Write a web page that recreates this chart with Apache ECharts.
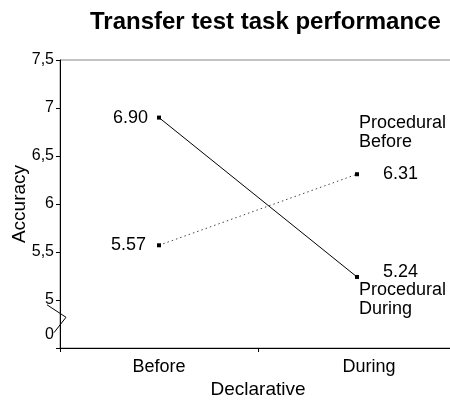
<!DOCTYPE html>
<html>
<head>
<meta charset="utf-8">
<script src="https://cdn.jsdelivr.net/npm/echarts@6/dist/echarts.min.js"></script>
<style>
  html, body { margin: 0; padding: 0; background: #fff; }
  #main { width: 450px; height: 400px; }
</style>
</head>
<body>
<div id="main"></div>
<script>
// categories on the x axis (Declarative)
const categories = ['Before', 'During'];

// accuracy per series (Procedural)
const proceduralDuring = [6.90, 5.24];
const proceduralBefore = [5.57, 6.31];

// y axis: broken axis, "0" sits just below the break
const yTickValues = [4.5, 5, 5.5, 6, 6.5, 7, 7.5];
const yLabelValues = [4.64, 5, 5.5, 6, 6.5, 7, 7.5];
const yLabelTexts = ['0', '5', '5,5', '6', '6,5', '7', '7,5'];

const FONT = '"Liberation Sans", Arial, sans-serif';
const GRID_LEFT = 60;

const chart = echarts.init(document.getElementById('main'));

const nameRich = {
  n: { fontSize: 18, lineHeight: 19, color: '#000', fontFamily: FONT }
};

// label left of the "Before" point
function leftLabel(distance) {
  return {
    show: true,
    position: 'left',
    distance: distance,
    fontSize: 18,
    color: '#000',
    fontFamily: FONT,
    formatter: p => p.value.toFixed(2)
  };
}

chart.setOption({
  animation: false,
  title: {
    text: 'Transfer test task performance',
    left: 90,
    top: 10,
    padding: 0,
    textStyle: { fontSize: 24, fontWeight: 'bold', color: '#000', fontFamily: FONT }
  },
  grid: {
    left: GRID_LEFT,
    top: 60,
    width: 396,
    height: 288,
    outerBoundsMode: 'none',
    containLabel: false,
    show: true,
    borderColor: '#888',
    borderWidth: 1
  },
  xAxis: {
    type: 'category',
    data: [
      categories[0],
      { value: categories[1], textStyle: { padding: [0, 0, 0, 24] } }
    ],
    name: 'Declarative',
    nameLocation: 'middle',
    nameGap: 32,
    nameMoveOverlap: false,
    nameTextStyle: { fontSize: 19, color: '#000', fontFamily: FONT },
    axisLine: { lineStyle: { color: '#000', width: 1 } },
    axisTick: { show: true, length: 4, lineStyle: { color: '#000' } },
    axisLabel: { fontSize: 18, color: '#000', fontFamily: FONT, margin: 10 },
    splitLine: { show: false }
  },
  yAxis: {
    type: 'value',
    min: 4.5,
    max: 7.5,
    interval: 0.5,
    name: 'Accuracy',
    nameLocation: 'middle',
    nameGap: 31,
    nameMoveOverlap: false,
    nameTextStyle: { fontSize: 19, color: '#000', fontFamily: FONT },
    axisLine: { show: true, lineStyle: { color: '#000', width: 1 } },
    axisTick: {
      show: true,
      length: 4,
      customValues: yTickValues,
      lineStyle: { color: '#000' }
    },
    axisLabel: {
      customValues: yLabelValues,
      fontSize: 16,
      color: '#000',
      fontFamily: FONT,
      margin: 6,
      formatter: v => {
        const i = yLabelValues.findIndex(x => Math.abs(x - v) < 1e-6);
        return i >= 0 ? yLabelTexts[i] : '';
      }
    },
    splitLine: { show: false }
  },
  series: [
    {
      name: 'Procedural During',
      type: 'line',
      symbol: 'rect',
      symbolSize: 4,
      itemStyle: { color: '#000' },
      lineStyle: { color: '#000', width: 1, type: 'solid' },
      data: proceduralDuring.map((v, i) => ({
        value: v,
        label: i === 0 ? leftLabel(9) : {
          show: true,
          position: 'right',
          distance: 0,
          padding: [28, 0, 0, 0],
          formatter: p => `{v|${p.value.toFixed(2)}}\n{n|Procedural}\n{n|During}`,
          rich: {
            v: { fontSize: 18, lineHeight: 17, padding: [0, 0, 0, 24], color: '#000', fontFamily: FONT },
            n: nameRich.n
          }
        }
      }))
    },
    {
      name: 'Procedural Before',
      type: 'line',
      symbol: 'rect',
      symbolSize: 4,
      itemStyle: { color: '#000' },
      lineStyle: { color: '#444', width: 1, type: [1.5, 3] },
      data: proceduralBefore.map((v, i) => ({
        value: v,
        label: i === 0 ? leftLabel(11) : {
          show: true,
          position: 'right',
          distance: 0,
          padding: [0, 0, 38, 0],
          formatter: p => `{n|Procedural}\n{n|Before}\n{v|${p.value.toFixed(2)}}`,
          rich: {
            v: { fontSize: 18, lineHeight: 45, padding: [0, 0, 0, 24], color: '#000', fontFamily: FONT },
            n: nameRich.n
          }
        }
      }))
    }
  ]
});

// axis break zigzag between 5 and 0
const yPix = v => chart.convertToPixel({ yAxisIndex: 0 }, v);
chart.setOption({
  graphic: [{
    type: 'polyline',
    shape: {
      points: [
        [GRID_LEFT - 13, yPix(4.95)],
        [GRID_LEFT + 6, yPix(4.82)],
        [GRID_LEFT - 6, yPix(4.66)]
      ]
    },
    style: { stroke: '#000', lineWidth: 1, fill: null },
    z: 10
  }]
});
</script>
</body>
</html>
